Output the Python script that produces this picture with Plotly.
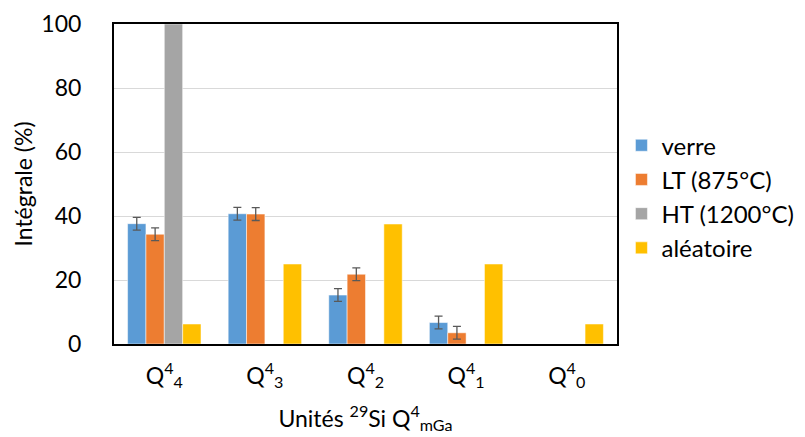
import plotly.graph_objects as go

categories = ["Q<sup>4</sup><sub>4</sub>", "Q<sup>4</sup><sub>3</sub>", "Q<sup>4</sup><sub>2</sub>",
              "Q<sup>4</sup><sub>1</sub>", "Q<sup>4</sup><sub>0</sub>"]
verre = [37.6, 40.7, 15.3, 6.7, None]
verre_err = [2.0, 2.0, 2.0, 2.0, 0]
lt = [34.3, 40.6, 21.8, 3.5, None]
lt_err = [2.0, 2.0, 2.0, 2.0, 0]
ht = [100, None, None, None, None]
aleatoire = [6.25, 25, 37.5, 25, 6.25]

series = [
    ("verre", verre, verre_err, "#5B9BD5"),
    ("LT (875°C)", lt, lt_err, "#ED7D31"),
    ("HT (1200°C)", ht, None, "#A5A5A5"),
    ("aléatoire", aleatoire, None, "#FFC000"),
]

font = "Lato, Carlito, 'Open Sans', sans-serif"
fig = go.Figure()
for name, vals, err, col in series:
    kw = {}
    if err is not None:
        kw["error_y"] = dict(type="data", array=err, visible=True, color="#595959", thickness=1.3, width=4)
    fig.add_trace(go.Bar(name=name, x=categories, y=vals,
                         marker=dict(color=col, line=dict(color="rgba(255,255,255,0.5)", width=1)), **kw))

fig.update_layout(
    width=805, height=437,
    margin=dict(l=114, r=188, t=24, b=93),
    barmode="group", bargap=0.27, bargroupgap=0,
    plot_bgcolor="white", paper_bgcolor="white",
    font=dict(family=font, size=23, color="#000000"),
    legend=dict(xref="container", yref="container", x=0.772, y=0.55, xanchor="left", yanchor="middle",
                font=dict(size=24), itemwidth=30, bgcolor="rgba(0,0,0,0)"),
    showlegend=True,
)
fig.update_yaxes(range=[0, 100], dtick=20, showgrid=True, gridcolor="#D9D9D9", gridwidth=1,
                 showline=True, linecolor="black", linewidth=2, mirror=True, ticks="",
                 ticklabelstandoff=26, tickfont=dict(size=23), automargin=False,
                 title=dict(text="Intégrale (%)", font=dict(size=23), standoff=2), zeroline=False)
fig.update_xaxes(showline=True, linecolor="black", linewidth=2, mirror=True, ticks="",
                 tickfont=dict(size=23), ticklabelstandoff=10, automargin=False,
                 title=dict(text="Unités <sup>29</sup>Si Q<sup>4</sup><sub>mGa</sub>", font=dict(size=23), standoff=20))

fig.write_html("out.html", config={"displayModeBar": False},
               post_script="document.body.style.margin='0';document.body.style.padding='0';")
